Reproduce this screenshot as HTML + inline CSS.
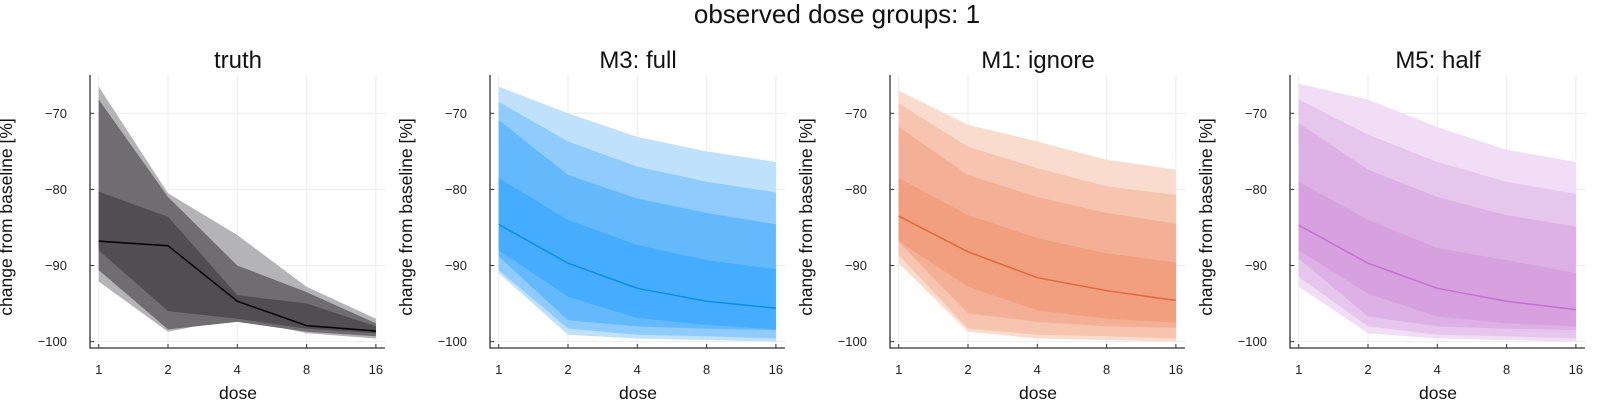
<!DOCTYPE html>
<html><head><meta charset="utf-8"><style>
html,body{margin:0;padding:0;background:#fff;}
svg{display:block;font-family:"Liberation Sans","DejaVu Sans",sans-serif;}
</style></head><body>
<svg id="chart" width="1600" height="400" viewBox="0 0 1600 400">
<text x="837" y="23" font-size="26" text-anchor="middle" fill="#111">observed dose groups: 1</text>
</svg>
<script>
const doses = [1, 2, 4, 8, 16];
const yTicks = [-70, -80, -90, -100];
const panelTitles = ["truth", "M3: full", "M1: ignore", "M5: half"];
// bands per panel: outer -> inner, each [top values, bottom values]
const truthBandTop = [[-66.5, -80.5, -86.0, -92.8, -97.0], [-68.2, -81.0, -90.0, -93.5, -97.6], [-80.3, -83.6, -93.9, -95.0, -98.0]];
const truthBandBot = [[-92.1, -98.7, -96.9, -98.9, -99.6], [-90.6, -98.4, -97.4, -98.7, -99.3], [-88.0, -96.0, -97.0, -98.3, -98.9]];
const truthMedian = [-86.8, -87.4, -94.7, -97.9, -98.6];
const m3BandTop = [[-66.5, -70.0, -73.1, -75.0, -76.4], [-68.5, -73.7, -77.0, -79.0, -80.4], [-70.9, -78.1, -81.2, -83.1, -84.6], [-78.5, -84.0, -87.3, -89.3, -90.5]];
const m3BandBot = [[-91.0, -99.1, -99.6, -99.8, -100.0], [-90.6, -98.3, -99.1, -99.3, -99.6], [-88.8, -97.2, -98.0, -98.3, -98.5], [-88.0, -94.1, -96.9, -97.8, -98.4]];
const m3Median = [-84.6, -89.7, -93.0, -94.7, -95.6];
const m1BandTop = [[-67.0, -71.5, -73.7, -76.1, -77.4], [-68.7, -74.4, -77.2, -79.6, -80.7], [-71.8, -78.1, -81.0, -83.1, -84.5], [-78.5, -83.4, -86.4, -88.4, -89.6]];
const m1BandBot = [[-89.7, -98.7, -99.6, -99.8, -100.0], [-88.6, -98.3, -99.1, -99.3, -99.6], [-86.9, -96.3, -97.4, -98.0, -98.2], [-86.8, -92.8, -95.9, -97.0, -97.5]];
const m1Median = [-83.5, -88.2, -91.6, -93.3, -94.6];
const m5BandTop = [[-66.1, -68.2, -71.8, -74.8, -76.4], [-68.2, -72.8, -76.4, -79.0, -80.6], [-71.3, -77.4, -81.0, -83.4, -84.9], [-79.0, -84.0, -87.7, -89.3, -91.0]];
const m5BandBot = [[-92.8, -98.9, -99.6, -99.8, -100.0], [-91.5, -98.0, -99.1, -99.3, -99.6], [-89.1, -96.7, -98.0, -98.3, -98.5], [-88.0, -93.7, -96.7, -97.6, -98.0]];
const m5Median = [-84.7, -89.7, -93.0, -94.7, -95.8];

const panels = [
  {tops: truthBandTop, bots: truthBandBot, med: truthMedian, fills: ["#b4b3b5", "#6f6d70", "#504e51"], line: "#000000"},
  {tops: m3BandTop, bots: m3BandBot, med: m3Median, fills: ["#bfe1fc", "#8fcbfd", "#64b9fd", "#46acfd"], line: "#0a8bee"},
  {tops: m1BandTop, bots: m1BandBot, med: m1Median, fills: ["#fadccf", "#f7c4af", "#f4b096", "#f19f7e"], line: "#e3683f"},
  {tops: m5BandTop, bots: m5BandBot, med: m5Median, fills: ["#f1ddf5", "#e7c6ed", "#ddb1e5", "#d6a1de"], line: "#c471d3"}
];
const NS = "http://www.w3.org/2000/svg";
const svg = document.getElementById("chart");
function mk(tag, attrs, parent) {
  const e = document.createElementNS(NS, tag);
  for (const k in attrs) e.setAttribute(k, attrs[k]);
  (parent || svg).appendChild(e);
  return e;
}
const X0 = 98.7, XSTEP = 69.3, YREF = 113.3, YPER = 7.61;
function xs(d, off) { return off + X0 + Math.log2(d) * XSTEP; }
function ys(v) { return YREF + (-70 - v) * YPER; }

panels.forEach((p, i) => {
  const off = i * 400;
  const g = mk("g", {});
  
  
  doses.forEach(d => {
    const l = mk("line", {x1: xs(d, off), x2: xs(d, off), y1: 75, y2: 348, stroke: "#ececec", "stroke-width": 1}, g);
    
    
  });
  yTicks.forEach(v => {
    const l = mk("line", {x1: off + 90, x2: off + 385, y1: ys(v), y2: ys(v), stroke: "#ececec", "stroke-width": 1}, g);
    
    
  });
  p.tops.forEach((top, b) => {
    const bot = p.bots[b];
    let pts = doses.map((d, k) => xs(d, off) + "," + ys(top[k]));
    pts = pts.concat(doses.slice().reverse().map((d, k) => xs(d, off) + "," + ys(bot[doses.length - 1 - k])));
    const poly = mk("polygon", {points: pts.join(" "), fill: p.fills[b]}, g);
    
    
  });
  const ml = mk("polyline", {points: doses.map((d, k) => xs(d, off) + "," + ys(p.med[k])).join(" "), fill: "none", stroke: p.line, "stroke-width": 1.5}, g);
  
  
  const ax = mk("path", {d: `M${off + 90} 75 V348 H${off + 385}`, fill: "none", stroke: "#333", "stroke-width": 1.3}, g);
  
  
  doses.forEach(d => {
    const t = mk("line", {x1: xs(d, off), x2: xs(d, off), y1: 348, y2: 344, stroke: "#333", "stroke-width": 1}, g);
    
    
    const tl = mk("text", {x: xs(d, off), y: 374, "font-size": 13, "text-anchor": "middle", fill: "#222"}, g);
    tl.textContent = d;
    
    
  });
  yTicks.forEach(v => {
    const t = mk("line", {x1: off + 90, x2: off + 94, y1: ys(v), y2: ys(v), stroke: "#333", "stroke-width": 1}, g);
    
    
    const tl = mk("text", {x: off + 67, y: ys(v) + 4.5, "font-size": 13, "text-anchor": "end", fill: "#222"}, g);
    tl.textContent = "\u2212" + Math.abs(v);
    
    
  });
  const tt = mk("text", {x: off + 238, y: 68, "font-size": 24, "text-anchor": "middle", fill: "#111"}, g);
  tt.textContent = panelTitles[i];
  
  
  const xl = mk("text", {x: off + 238, y: 399, "font-size": 17.5, "text-anchor": "middle", fill: "#111"}, g);
  xl.textContent = "dose";
  
  
  const yl = mk("text", {x: 0, y: 0, "font-size": 17.5, "text-anchor": "middle", fill: "#111", transform: `translate(${off + 12},${217}) rotate(-90)`}, g);
  yl.textContent = "change from baseline [%]";
  
  
});
</script>
</body></html>
